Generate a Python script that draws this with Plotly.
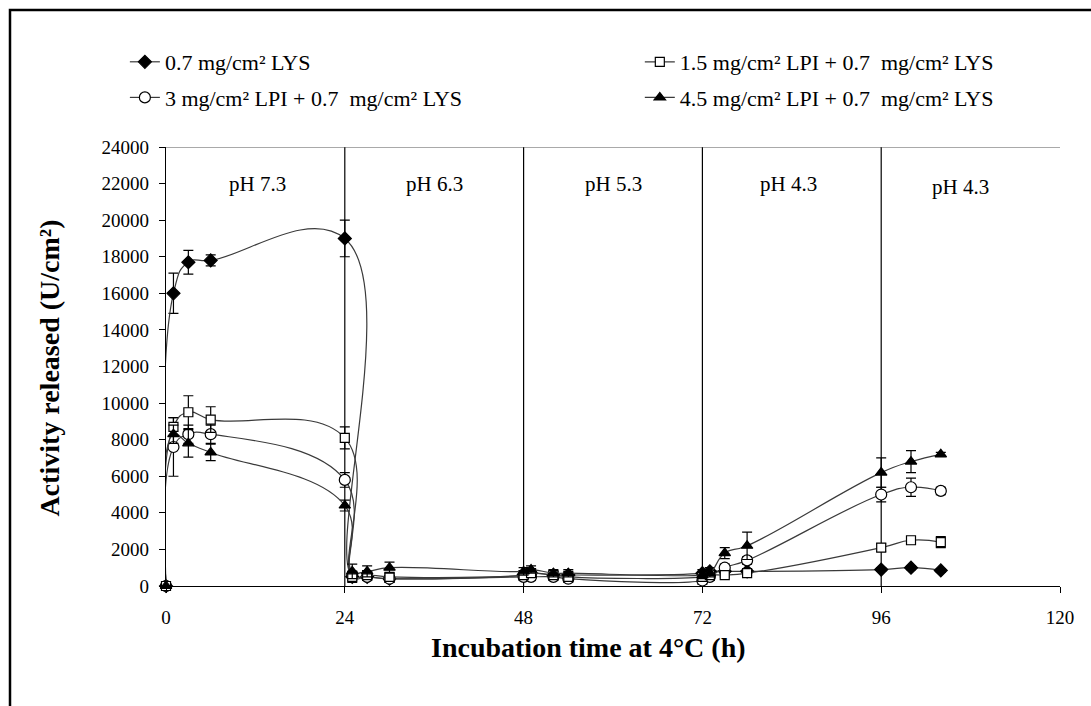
import plotly.graph_objects as go

# Sampling times (h) across the five pH steps
hours = [0, 1, 3, 6, 24, 25, 27, 30, 48, 49, 52, 54, 72, 73, 75, 78, 96, 100, 104]

# Released activity (U/cm²) and standard deviations per coating
lys = [0, 16000, 17700, 17800, 19000, 500, 500, 400, 600, 700, 600, 600, 700, 800, 800, 800, 900, 1000, 850]
lys_sd = [0, 1100, 650, 300, 1000, 300, 200, 200, 200, 200, 200, 200, 200, 200, 100, 100, 100, 100, 100]

lpi15 = [0, 8700, 9500, 9100, 8100, 500, 600, 500, 600, 700, 600, 500, 500, 600, 600, 700, 2100, 2500, 2400]
lpi15_sd = [0, 500, 900, 700, 600, 200, 200, 200, 200, 200, 200, 200, 200, 200, 100, 100, 200, 200, 300]

lpi3 = [0, 7600, 8300, 8300, 5800, 600, 500, 400, 500, 500, 500, 400, 300, 500, 1000, 1400, 5000, 5400, 5200]
lpi3_sd = [0, 1600, 500, 500, 400, 200, 200, 200, 200, 200, 200, 200, 200, 200, 200, 200, 400, 500, 200]

lpi45 = [0, 8300, 7800, 7300, 4400, 800, 800, 1000, 800, 900, 700, 700, 600, 700, 1800, 2200, 6200, 6800, 7200]
lpi45_sd = [0, 500, 750, 450, 300, 400, 300, 300, 200, 200, 200, 200, 200, 200, 300, 750, 800, 600, 100]

# Step boundaries and pH labels
boundaries = [24, 48, 72, 96]
ph_labels = ["pH 7.3", "pH 6.3", "pH 5.3", "pH 4.3", "pH 4.3"]
ph_label_x = [12.3, 36, 60, 83.6, 106.7]
ph_label_y = [22000, 22000, 22000, 22000, 21800]

FONT = "Liberation Serif"
LINE = "#3a3a3a"
NB = "\u00a0"

series = [
    ("0.7 mg/cm² LYS", lys, lys_sd, "diamond", "black", 10, "legend"),
    (f"3 mg/cm² LPI + 0.7{NB}{NB}mg/cm² LYS", lpi3, lpi3_sd, "circle", "white", 11, "legend"),
    (f"1.5 mg/cm² LPI + 0.7{NB}{NB}mg/cm² LYS", lpi15, lpi15_sd, "square", "white", 9, "legend2"),
    (f"4.5 mg/cm² LPI + 0.7{NB}{NB}mg/cm² LYS", lpi45, lpi45_sd, "triangle-up", "black", 10, "legend2"),
]

fig = go.Figure()
for i, (name, vals, sd, sym, fill, size, leg) in enumerate(series):
    fig.add_trace(go.Scatter(
        x=hours, y=vals, name=name, mode="lines+markers", cliponaxis=False,
        line=dict(color=LINE, width=1.2, shape="spline", smoothing=1.3),
        marker=dict(symbol=sym, size=size, color=fill, line=dict(color="black", width=1.2)),
        error_y=dict(type="data", array=sd, visible=True, color="black", thickness=1.2, width=5),
        legend=leg, legendgroup=f"g{i}",
    ))

shapes = []
for b in boundaries:
    shapes.append(dict(type="line", xref="x", yref="y", x0=b, x1=b, y0=0, y1=24000,
                       line=dict(color="black", width=1.2), layer="below"))
shapes.append(dict(type="line", xref="x", yref="y", x0=0, x1=120, y0=24000, y1=24000,
                   line=dict(color="#555555", width=1.2), layer="below"))
# outer frame
shapes.append(dict(type="rect", xref="paper", yref="paper", x0=-0.1745, x1=1.05, y0=-0.3, y1=1.312,
                   line=dict(color="black", width=2.5), fillcolor="rgba(0,0,0,0)"))

annotations = [
    dict(x=x, y=y, text=t, showarrow=False, xref="x", yref="y",
         font=dict(family=FONT, size=21, color="black"))
    for t, x, y in zip(ph_labels, ph_label_x, ph_label_y)
]
# axis titles
annotations.append(dict(x=0.473, y=-0.141, xref="paper", yref="paper", showarrow=False,
                        xanchor="center", yanchor="middle",
                        text="<b>Incubation time at 4°C (h)</b>",
                        font=dict(family=FONT, size=28, color="black")))
annotations.append(dict(x=-0.13, y=0.497, xref="paper", yref="paper", showarrow=False,
                        xanchor="center", yanchor="middle", textangle=-90,
                        text="<b>Activity released (U/cm²)</b>",
                        font=dict(family=FONT, size=28, color="black")))

legend_style = dict(font=dict(family=FONT, size=22, color="black"), bgcolor="rgba(0,0,0,0)",
                    orientation="v", xanchor="left", yanchor="middle", tracegroupgap=4,
                    itemwidth=30)

fig.update_layout(
    width=1091, height=706,
    margin=dict(l=166, r=31, t=147, b=120),
    paper_bgcolor="white", plot_bgcolor="white",
    font=dict(family=FONT, color="black"),
    showlegend=True,
    legend=dict(x=-0.046, y=(586 - 80) / 439, **legend_style),
    legend2=dict(x=0.53, y=(586 - 80) / 439, **legend_style),
    shapes=shapes, annotations=annotations,
    xaxis=dict(range=[0, 120], tickvals=[0, 24, 48, 72, 96, 120], ticks="outside", ticklen=6,
               tickcolor="black", showline=True, linecolor="black", linewidth=1.2,
               showgrid=False, zeroline=False, ticklabelstandoff=8,
               tickfont=dict(family=FONT, size=19, color="black")),
    yaxis=dict(range=[0, 24000], dtick=2000, ticks="outside", ticklen=6,
               tickcolor="black", showline=True, linecolor="black", linewidth=1.2,
               showgrid=False, zeroline=False, tickformat="d", ticklabelstandoff=6,
               tickfont=dict(family=FONT, size=19, color="black")),
)

fig.write_html("out.html")
